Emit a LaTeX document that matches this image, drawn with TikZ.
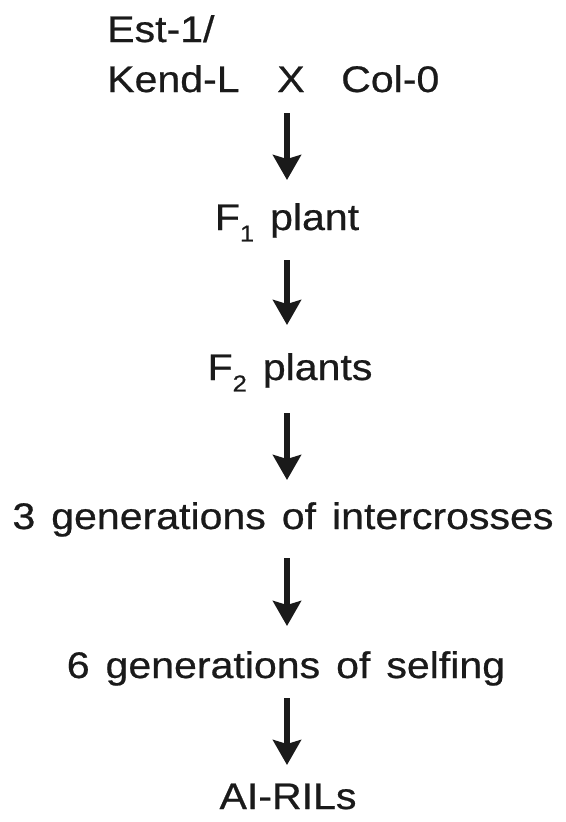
\documentclass[tikz,border=0pt]{standalone}
\usepackage{fontspec}
\setmainfont{Liberation Sans}[FakeStretch=1.11, FakeBold=0.6, WordSpace=1.4]
\usetikzlibrary{arrows.meta}
\definecolor{ink}{HTML}{1A1A1A}
% lowered small index, as in F_1
\newcommand\gensub[1]{\raisebox{-0.31em}{\fontsize{23}{23}\selectfont #1}}
\begin{document}
\begin{tikzpicture}[x=1pt, y=-1pt,
  lbl/.style={inner sep=0pt, font=\fontsize{37}{40}\selectfont, text=ink},
  flowarrow/.style={draw=ink, line width=5.5pt,
    -{Stealth[length=25pt, width=28pt, inset=4pt]}}]
\useasboundingbox[fill=white] (0,0) rectangle (565,822);

% parents of the cross
\node[lbl, anchor=base west] (est)   at (107,42) {Est-1/};
\node[lbl, anchor=base west] (kend)  at (107,92) {Kend-L};
\node[lbl, anchor=base]      (cross) at (291,92) {X};
\node[lbl, anchor=base west] (col)   at (341,92) {Col-0};

% generations
\node[lbl, anchor=base] (f1)    at (287,230) {F\gensub{1} plant};
\node[lbl, anchor=base] (f2)    at (290,380) {F\gensub{2} plants};
\node[lbl, anchor=base] (inter) at (283,529) {3 generations of intercrosses};
\node[lbl, anchor=base] (self)  at (286,678) {6 generations of selfing};
\node[lbl, anchor=base] (ril)   at (288,809) {AI-RILs};

% arrow ends
\coordinate (s1) at (287,113); \coordinate (e1) at (287,180);
\coordinate (s2) at (287,260); \coordinate (e2) at (287,325);
\coordinate (s3) at (287,413); \coordinate (e3) at (287,480);
\coordinate (s4) at (287,558); \coordinate (e4) at (287,626);
\coordinate (s5) at (287,698); \coordinate (e5) at (287,765);

\draw[flowarrow] (s1) -- (e1);
\draw[flowarrow] (s2) -- (e2);
\draw[flowarrow] (s3) -- (e3);
\draw[flowarrow] (s4) -- (e4);
\draw[flowarrow] (s5) -- (e5);
\end{tikzpicture}
\end{document}
